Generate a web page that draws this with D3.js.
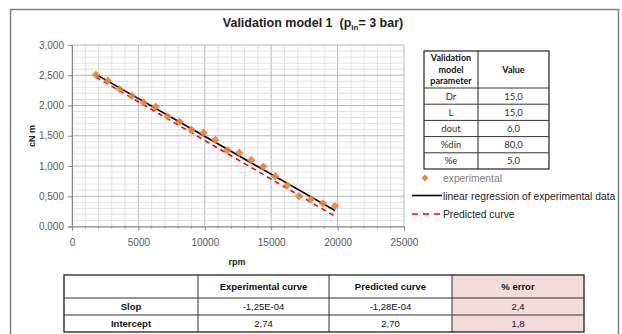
<!DOCTYPE html>
<html><head><meta charset="utf-8">
<script src="https://cdn.jsdelivr.net/npm/d3@7"></script>
<style>
html,body{margin:0;padding:0;background:#fff;}
svg{display:block;}
</style></head>
<body><svg id="c" width="622" height="334"></svg>
<script>
// ---- data ----
const rpm = [1800,2700,3600,4500,5400,6300,7200,8100,9000,9900,10800,11700,12600,13500,14400,15300,16200,17100,18000,18900,19800];
const torque = [2.51,2.41,2.27,2.16,2.05,1.98,1.82,1.73,1.60,1.55,1.43,1.26,1.22,1.10,0.99,0.83,0.68,0.50,0.45,0.38,0.34];
const regressionLine = [[1800,2.515],[19800,0.265]];
const predictedLine = [[1800,2.47],[19800,0.17]];
const xTicks = [0,5000,10000,15000,20000,25000];
const yTicks = [0,0.5,1,1.5,2,2.5,3];
const paramNames = ["Dr","L","dout","%din","%e"];
const paramValues = ["15,0","15,0","6,0","80,0","5,0"];
const summaryHeaders = ["","Experimental curve","Predicted curve","% error"];
const summaryRows = ["Slop","Intercept"];
const expCurve = ["-1,25E-04","2,74"];
const predCurve = ["-1,28E-04","2,70"];
const pctError = ["2,4","1,8"];
const legendLabels = ["experimental","linear regression of experimental data","Predicted curve"];

const svg = d3.select("#c");
svg.append("rect").attr("width",622).attr("height",334).attr("fill","#fff");
// outer frame
svg.append("rect").attr("x",10.5).attr("y",9.5).attr("width",608).attr("height",340)
  .attr("fill","none").attr("stroke","#7f7f7f").attr("stroke-width",1.5);

const x = d3.scaleLinear().domain([0,25000]).range([72,404]);
const y = d3.scaleLinear().domain([0,3]).range([226.5,45]);

// grid
const g = svg.append("g");
g.selectAll(".vmin").data(d3.range(0,25001,1000)).join("line")
  .attr("x1",d=>x(d)).attr("x2",d=>x(d)).attr("y1",y(0)).attr("y2",y(3))
  .attr("stroke",d=>d%5000===0?"#a6a6a6":"#d9d9d9").attr("stroke-width",0.8);
g.selectAll(".hmin").data(d3.range(0,31,1).map(v=>v/10)).join("line")
  .attr("x1",x(0)).attr("x2",x(25000)).attr("y1",d=>y(d)).attr("y2",d=>y(d))
  .attr("stroke",(d,i)=>i%5===0?"#a6a6a6":"#d9d9d9").attr("stroke-width",0.8);

// axes
const yAxis = d3.axisLeft(y).tickValues(yTicks).tickSize(4).tickFormat(d=>d3.format(".3f")(d).replace(".",","));
const ya = svg.append("g").attr("transform",`translate(${x(0)},0)`).call(yAxis);
ya.select(".domain").attr("stroke","#868686");
ya.selectAll(".tick line").attr("stroke","#868686");
ya.selectAll("text").attr("fill","#595959").style("font","10px 'Liberation Sans', Arial, sans-serif").attr("x",-8);

const xAxis = d3.axisBottom(x).tickValues(xTicks).tickSize(4).tickFormat(d=>String(d));
const xa = svg.append("g").attr("transform",`translate(0,${y(0)})`).call(xAxis);
xa.select(".domain").attr("stroke","#868686");
xa.selectAll(".tick line").attr("stroke","#868686");
xa.selectAll("text").attr("fill","#595959").style("font","10px 'Liberation Sans', Arial, sans-serif").attr("dy","1.25em");
// minor x ticks
svg.append("g").selectAll("line").data(d3.range(1000,25000,1000).filter(d=>d%5000)).join("line")
  .attr("x1",d=>x(d)).attr("x2",d=>x(d)).attr("y1",y(0)).attr("y2",y(0)+2).attr("stroke","#868686");

// axis titles
svg.append("text").attr("x",237).attr("y",265).attr("text-anchor","middle")
  .style("font","bold 9px 'Liberation Sans', Arial, sans-serif").attr("fill","#222").text("rpm");
svg.append("text").attr("transform","translate(35,136) rotate(-90)").attr("text-anchor","middle")
  .style("font","bold 9px 'Liberation Sans', Arial, sans-serif").attr("fill","#222").text("cN m");

// title
const t = svg.append("text").attr("x",313).attr("y",27).attr("text-anchor","middle")
  .style("font","bold 12.5px 'Liberation Sans', Arial, sans-serif").style("white-space","pre").attr("fill","#222");
t.append("tspan").text("Validation model 1  (p");
t.append("tspan").attr("dy",3).style("font-size","8px").text("in");
t.append("tspan").attr("dy",-3).text("= 3 bar)");

// lines
const line = d3.line().x(d=>x(d[0])).y(d=>y(d[1]));
svg.append("path").datum(predictedLine).attr("d",line).attr("fill","none")
  .attr("stroke","#ff0000").attr("stroke-width",1.6).attr("stroke-dasharray","5,4");
svg.append("path").datum(regressionLine).attr("d",line).attr("fill","none")
  .attr("stroke","#000").attr("stroke-width",1.6);
// markers (equal-sided diamond)
const diamond = "M0,-4.2L4.2,0L0,4.2L-4.2,0Z";
svg.append("g").selectAll("path").data(rpm.map((r,i)=>[r,torque[i]])).join("path")
  .attr("d",diamond).attr("transform",d=>`translate(${x(d[0])},${y(d[1])})`)
  .attr("fill","#e8863a").attr("opacity",0.9);

// parameter table
const pt = svg.append("g");
const pL=424, pM=478, pR=549, pTop=51, pHead=88, rowH=16.2;
const pRows = paramNames.map((n,i)=>({n,v:paramValues[i]}));
pt.append("rect").attr("x",pL).attr("y",pTop).attr("width",pR-pL).attr("height",pHead-pTop+rowH*pRows.length)
  .attr("fill","#fff").attr("stroke","#222").attr("stroke-width",1.2);
pt.append("line").attr("x1",pM).attr("x2",pM).attr("y1",pTop).attr("y2",pHead+rowH*pRows.length).attr("stroke","#222");
pt.selectAll(".rl").data(pRows).join("line").attr("x1",pL).attr("x2",pR)
  .attr("y1",(d,i)=>pHead+rowH*i).attr("y2",(d,i)=>pHead+rowH*i).attr("stroke","#333");
const tf = "'Lato','Open Sans',sans-serif";
const hdr = pt.append("text").attr("text-anchor","middle").attr("fill","#111").style("font",`bold 9px ${tf}`);
["Validation","model","parameter"].forEach((s,i)=>hdr.append("tspan").attr("x",(pL+pM)/2).attr("y",pTop+10+i*11.5).text(s));
pt.append("text").attr("x",(pM+pR)/2).attr("y",(pTop+pHead)/2+3.5).attr("text-anchor","middle")
  .style("font",`bold 9px ${tf}`).attr("fill","#111").text("Value");
pt.selectAll(".pn").data(pRows).join("text").attr("x",(pL+pM)/2).attr("y",(d,i)=>pHead+rowH*i+rowH/2+3.5)
  .attr("text-anchor","middle").style("font",`9.5px ${tf}`).attr("fill","#333").text(d=>d.n);
pt.selectAll(".pv").data(pRows).join("text").attr("x",(pM+pR)/2).attr("y",(d,i)=>pHead+rowH*i+rowH/2+3.5)
  .attr("text-anchor","middle").style("font",`9.5px ${tf}`).attr("fill","#333").text(d=>d.v);

// legend
const lg = svg.append("g").style("font","10.3px 'Liberation Sans', Arial, sans-serif");
lg.append("path").attr("d","M0,-3.5L3.5,0L0,3.5L-3.5,0Z").attr("transform","translate(425,178)").attr("fill","#e8863a");
lg.append("text").attr("x",443).attr("y",181.5).attr("fill","#7f7f7f").text(legendLabels[0]);
lg.append("line").attr("x1",412).attr("x2",442).attr("y1",195.5).attr("y2",195.5).attr("stroke","#000").attr("stroke-width",1.6);
lg.append("text").attr("x",443).attr("y",199.5).attr("fill","#222").text(legendLabels[1]);
lg.append("line").attr("x1",412).attr("x2",442).attr("y1",214).attr("y2",214).attr("stroke","#ff0000").attr("stroke-width",1.6).attr("stroke-dasharray","6,5");
lg.append("text").attr("x",443).attr("y",218).attr("fill","#222").text(legendLabels[2]);

// summary table
const st = svg.append("g");
const cols = [64,198,329,452,584];
const rowsY = [275,298,315,332];
st.append("rect").attr("x",cols[3]).attr("y",rowsY[0]).attr("width",cols[4]-cols[3]).attr("height",rowsY[3]-rowsY[0]).attr("fill","#f2dcdb");
st.append("rect").attr("x",cols[0]).attr("y",rowsY[0]).attr("width",cols[4]-cols[0]).attr("height",rowsY[3]-rowsY[0])
  .attr("fill","none").attr("stroke","#333").attr("stroke-width",1.4);
st.selectAll(".cv").data(cols.slice(1,4)).join("line").attr("x1",d=>d).attr("x2",d=>d).attr("y1",rowsY[0]).attr("y2",rowsY[3]).attr("stroke","#333");
st.selectAll(".rh").data(rowsY.slice(1,3)).join("line").attr("x1",cols[0]).attr("x2",cols[4]).attr("y1",d=>d).attr("y2",d=>d).attr("stroke","#333").attr("stroke-width",1.2);
const sf = "'Liberation Sans', Arial, sans-serif";
st.selectAll(".sh").data(summaryHeaders).join("text").attr("x",(d,i)=>(cols[i]+cols[i+1])/2).attr("y",(rowsY[0]+rowsY[1])/2+3.5)
  .attr("text-anchor","middle").style("font",`bold 9.5px ${sf}`).attr("fill","#111").text(d=>d);
const cells = summaryRows.map((r,i)=>[r,expCurve[i],predCurve[i],pctError[i]]);
cells.forEach((row,ri)=>{
  st.selectAll(".r"+ri).data(row).join("text").attr("x",(d,i)=>(cols[i]+cols[i+1])/2).attr("y",(rowsY[ri+1]+rowsY[ri+2])/2+3.5)
    .attr("text-anchor","middle").style("font",(d,i)=>i===0?`bold 9.5px ${sf}`:`9.5px ${sf}`).attr("fill","#111").text(d=>d);
});
</script></body></html>
